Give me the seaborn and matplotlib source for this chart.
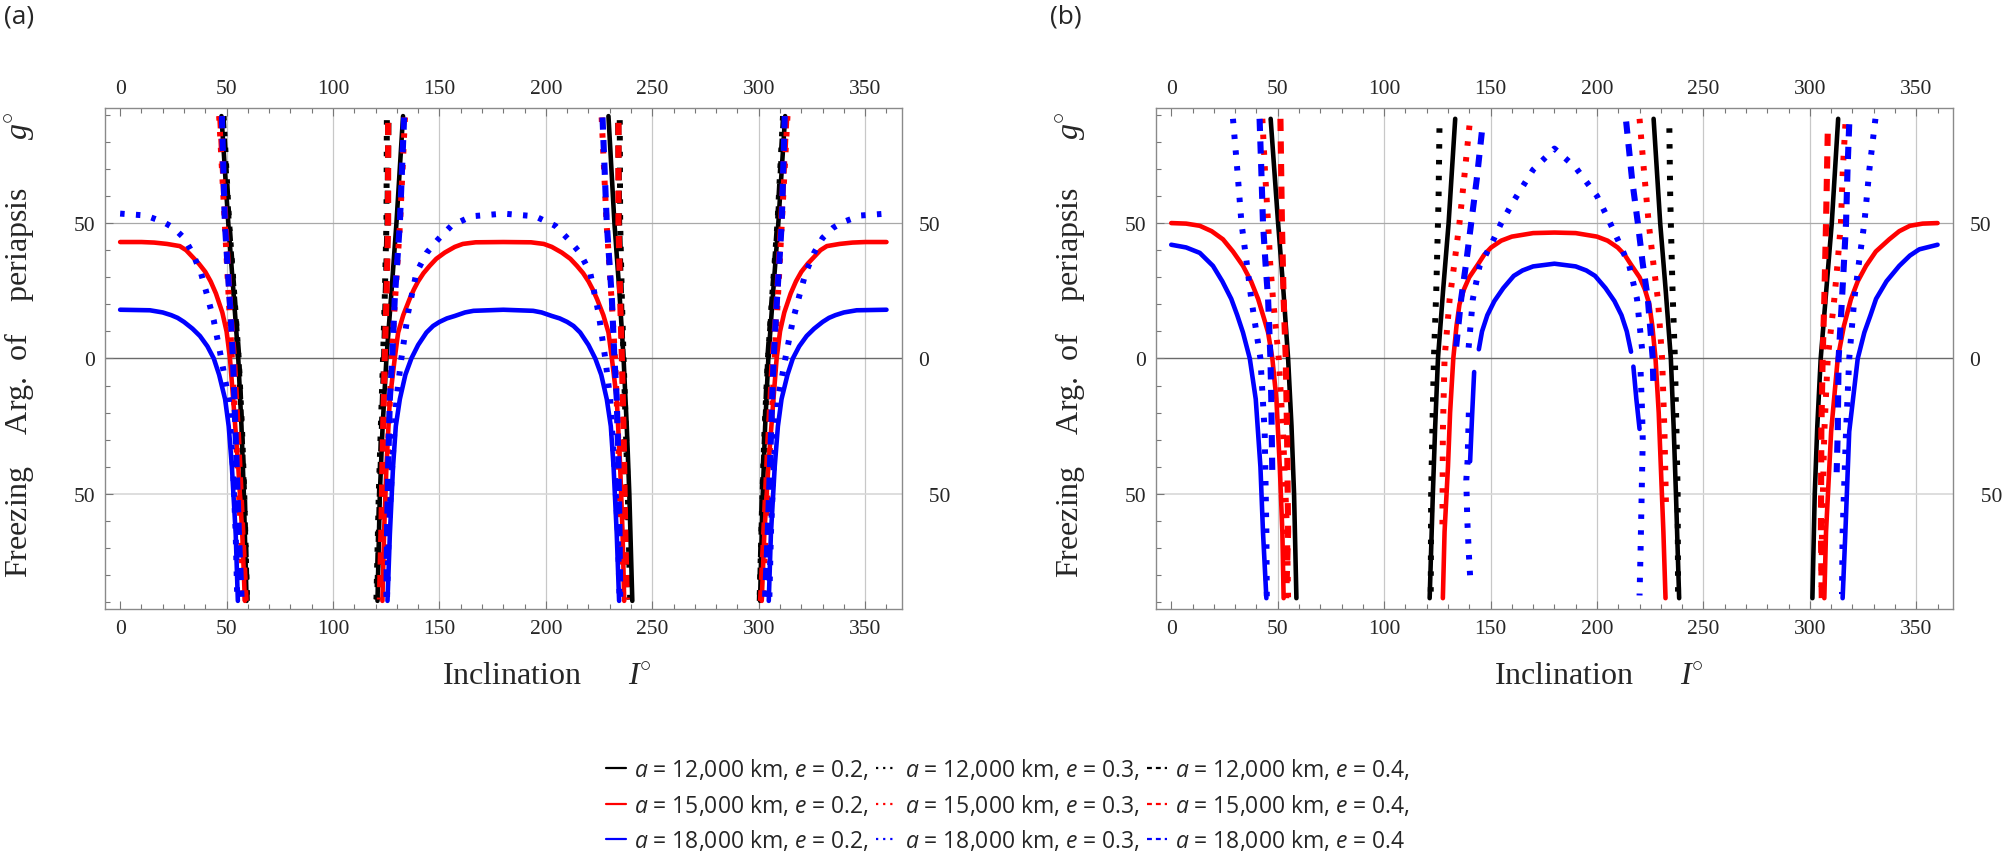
import pandas as pd
import seaborn as sns
import matplotlib.pyplot as plt
from matplotlib import font_manager
from matplotlib.lines import Line2D
from matplotlib.ticker import MultipleLocator

# Valeurs : (inclinaison I, argument g) par branche

# --- panneau (a) ---
a_k12_e02 = [
    [(47.6, 89.5), (50.8, 50), (53.2, 25), (55.5, 0), (57.0, -25), (58.1, -50), (59.4, -89.5)],
    [(132.9, 89.5), (129.8, 50), (127.5, 25), (125.1, 0), (123.3, -25), (122.0, -50), (120.9, -89.5)],
    [(229.4, 89.5), (232.2, 50), (234.5, 25), (236.5, 0), (238.0, -25), (239.2, -50), (240.6, -89.5)],
    [(312.4, 89.5), (309.2, 50), (306.8, 25), (304.5, 0), (303.0, -25), (301.9, -50), (300.6, -89.5)],
]
a_k12_e03 = [
    [(48.6, 89.5), (51.2, 50), (53.5, 25), (55.7, 0), (57.2, -25), (58.3, -50), (59.6, -89.5)],
    [(125.3, 88), (125.1, 50), (124.3, 22), (123.5, 0), (122.4, -27), (121.5, -50), (120.4, -89)],
    [(234.7, 88), (234.9, 50), (235.7, 22), (236.5, 0), (237.6, -27), (238.5, -50), (239.6, -89)],
    [(311.4, 89.5), (308.8, 50), (306.5, 25), (304.3, 0), (302.8, -25), (301.7, -50), (300.4, -89.5)],
]
a_k12_e04 = [
    [(48.2, 89.5), (51.0, 50), (55.6, 0), (58.2, -50), (59.5, -89.5)],
    [(126.0, 87), (125.6, 50), (124.0, 0), (122.0, -50), (120.8, -89)],
    [(234.0, 87), (234.4, 50), (236.0, 0), (238.0, -50), (239.2, -89)],
    [(311.8, 89.5), (309.0, 50), (304.4, 0), (301.8, -50), (300.5, -89.5)],
]
a_k15_e02 = [
    [(0, 43), (10, 43), (16, 42.8), (22, 42.3), (28, 41.5), (31, 40), (34, 37.5), (37, 35), (40, 32),
     (42.5, 28.5), (45, 24), (48, 17), (50, 10), (51.6, 0), (53.1, -15), (55.5, -40), (57.4, -65), (58.6, -89.5)],
    [(123.2, -89.5), (124.0, -64), (125.1, -40), (126.7, -15), (129.0, 0), (130.6, 9.6), (133, 16),
     (136.0, 22), (138, 25.5), (140.0, 28.5), (142.5, 31.5), (145.4, 34.2), (148.5, 36.8), (152.5, 39.1),
     (157.2, 41.2), (161, 42.3), (167, 42.9), (180, 43), (193, 42.9), (199, 42.3), (202.8, 41.2),
     (207.5, 39.1), (211.5, 36.8), (214.6, 34.2), (217.5, 31.5), (220.0, 28.5), (222, 25.5), (224.0, 22),
     (227, 16), (229.4, 9.6), (231.0, 0), (233.3, -15), (234.9, -40), (236.0, -64), (236.8, -89.5)],
    [(301.4, -89.5), (302.6, -65), (304.5, -40), (306.9, -15), (308.4, 0), (310, 10), (312, 17),
     (315, 24), (317.5, 28.5), (320, 32), (323, 35), (326, 37.5), (329, 40), (332, 41.5), (338, 42.3),
     (344, 42.8), (350, 43), (360, 43)],
]
a_k15_e03 = [
    [(46.5, 89.5), (48.5, 60), (50.5, 30), (52.5, 0), (54.5, -30), (56.5, -60), (58.0, -89.5)],
    [(133.8, 89), (131.5, 50), (129.0, 20), (127.5, 0), (126.0, -30), (125.0, -60), (124.0, -89)],
    [(226.2, 89), (228.5, 50), (231.0, 20), (232.5, 0), (234.0, -30), (235.0, -60), (236.0, -89)],
    [(313.5, 89.5), (311.5, 60), (309.5, 30), (307.5, 0), (305.5, -30), (303.5, -60), (302.0, -89.5)],
]
a_k15_e04 = [
    [(47.0, 89.5), (49.5, 50), (52.0, 15), (53.5, 0), (55.5, -30), (57.5, -65), (59.0, -89.5)],
    [(125.9, 87), (125.9, 50), (125.1, 22), (124.3, 0), (123.5, -27), (122.7, -64), (122.0, -89)],
    [(234.1, 87), (234.1, 50), (234.9, 22), (235.7, 0), (236.5, -27), (237.3, -64), (238.0, -89)],
    [(313.0, 89.5), (310.5, 50), (308.0, 15), (306.5, 0), (304.5, -30), (302.5, -65), (301.0, -89.5)],
]
a_k18_e02 = [
    [(0, 18), (14, 17.8), (20, 17), (24, 16), (27, 15), (30, 13.5), (34, 11), (37.5, 8.3), (41, 4.5),
     (44, 0), (46.5, -6), (49.3, -15), (51, -25), (52.5, -40), (54.3, -65), (55.3, -89.5)],
    [(125.6, -89.5), (126.7, -65), (128.2, -40), (129.5, -25), (131.4, -15), (134, -6), (136.8, 0),
     (140, 5), (143.9, 9.6), (147, 12), (150, 13.5), (153.5, 14.8), (157.2, 15.7), (162, 17), (166, 17.6),
     (180, 18), (194, 17.6), (198, 17), (202.8, 15.7), (206.5, 14.8), (210, 13.5), (213, 12), (216.1, 9.6),
     (220, 5), (223.2, 0), (226, -6), (228.6, -15), (230.5, -25), (231.8, -40), (233.3, -65), (234.4, -89.5)],
    [(304.7, -89.5), (305.7, -65), (307.5, -40), (309, -25), (310.7, -15), (313.5, -6), (316, 0), (319, 4.5),
     (322.5, 8.3), (326, 11), (330, 13.5), (333, 15), (336, 16), (340, 17), (346, 17.8), (360, 18)],
]
a_k18_e03 = [
    [(0, 53.5), (12, 52.8), (20, 50.5), (25, 48.3), (30, 44.5), (34, 39), (38, 31.5), (41, 23), (44, 14),
     (47.5, 0), (51, -15), (53, -40), (54.3, -65), (55, -88)],
    [(125.4, -88), (126.2, -64), (127.8, -40), (129.8, -15), (132.1, 0), (135.3, 17), (139.2, 31.7),
     (144, 39), (149.4, 44), (155.6, 49), (165, 52.5), (180, 53.5), (195, 52.5), (204.4, 49),
     (210.6, 44), (216, 39), (220.8, 31.7), (224.7, 17), (227.9, 0), (230.2, -15), (232.2, -40),
     (233.8, -64), (234.6, -88)],
    [(305, -88), (305.7, -65), (307, -40), (309, -15), (312.5, 0), (316, 14), (319, 23), (322, 31.5),
     (326, 39), (330, 44.5), (335, 48.3), (340, 50.5), (348, 52.8), (360, 53.5)],
]
a_k18_e04 = [
    [(47.8, 89.5), (49.2, 50), (51.9, 16), (53.0, 0), (54.2, -27), (55.8, -65), (57.0, -88)],
    [(133.4, 89), (131.4, 50), (129.0, 22), (127.8, 0), (126.7, -15), (125.9, -40), (125.4, -64), (125.1, -88)],
    [(226.6, 89), (228.6, 50), (231.0, 22), (232.2, 0), (233.3, -15), (234.1, -40), (234.6, -64), (234.9, -88)],
    [(312.2, 89.5), (310.8, 50), (308.1, 16), (307.0, 0), (305.8, -27), (304.2, -65), (303.0, -88)],
]

# --- panneau (b) ---
b_k12_e02 = [
    [(46.7, 88.5), (50.2, 50), (52.7, 25), (54.9, 0), (56.5, -25), (57.7, -50), (58.8, -88.5)],
    [(133.4, 88.5), (130.3, 50), (127.7, 25), (125.3, 0), (124.0, -25), (122.9, -50), (121.4, -88.5)],
    [(226.6, 88.5), (229.7, 50), (232.3, 25), (234.7, 0), (236.0, -25), (237.1, -50), (238.6, -88.5)],
    [(313.3, 88.5), (310.3, 50), (307.7, 25), (305.1, 0), (303.5, -25), (302.3, -50), (301.2, -88.5)],
]
b_k12_e03 = [
    [(126.0, 85), (125.6, 60), (125.3, 50), (124.5, 25), (123.4, 0), (122.7, -25), (122.1, -50), (121.9, -88.5)],
    [(234.0, 85), (234.4, 60), (234.7, 50), (235.5, 25), (236.6, 0), (237.3, -25), (237.9, -50), (238.1, -88.5)],
]
b_k12_e04 = []
b_k15_e02 = [
    [(0, 50), (7, 49.8), (13.4, 49), (19, 47), (24.3, 44), (29, 39.5), (33.7, 34.2), (37.5, 28.5),
     (40.8, 22), (43.5, 15), (45.5, 9.6), (47.5, 0), (49.4, -15), (51, -40), (52.2, -64), (52.8, -88.5)],
    [(127.6, -88.5), (128.4, -64), (130, -40), (131, -20), (132.5, 0), (134, 12), (135.4, 20), (137.5, 25.5),
     (140, 30), (144.3, 35), (147, 38.3), (150.3, 41), (155, 43.5), (160, 45), (170, 46.3), (180, 46.5),
     (190, 46.3), (200, 45), (205, 43.5), (209.7, 41), (213, 38.3), (215.7, 35), (220, 30), (222.5, 25.5),
     (224.6, 20), (226, 12), (227.5, 0), (229, -20), (230, -40), (231.2, -64), (232.2, -88.5)],
    [(306.8, -88.5), (307.6, -64), (310, -27), (313.1, 0), (316, 12), (319.3, 21.9), (322.5, 28.5),
     (326.4, 34.2), (331, 39.5), (337.3, 44), (342, 47), (347, 49), (353, 49.8), (360, 50)],
]
b_k15_e03 = [
    [(42.8, 88.5), (44, 70), (45.5, 50), (46.5, 35), (47.8, 22), (50.5, 0), (52.5, -27), (54.4, -64), (54.9, -88.5)],
    [(140.1, 86), (137.8, 68), (135.4, 50), (133, 35), (130.8, 22), (128.4, 0), (127.6, -27), (127.4, -62)],
    [(220.0, 88.5), (222, 70), (224.3, 50), (226.5, 35), (228.6, 22), (230.6, 0), (231.7, -27), (232.5, -57)],
    [(316.7, 86.5), (315.5, 70), (314.6, 50), (313, 35), (311.5, 22), (308.4, 0), (306.8, -27), (305.7, -64), (305.4, -88.5)],
]
b_k15_e04 = [
    [(51.3, 88.5), (52, 50), (52.8, 22), (53.8, 0), (54.4, -27), (54.9, -64), (54.0, -88.5)],
    [(308.4, 83), (307.6, 50), (306.8, 22), (306.0, 0), (305.4, -27), (305.2, -64), (305.6, -88.5)],
]
b_k18_e02 = [
    [(0, 42), (7, 41), (13.4, 39), (19.6, 34.2), (24, 28.5), (28.2, 22), (31, 16), (33.7, 9.6), (36.9, 0),
     (39.7, -15), (41.9, -40), (43.1, -64), (44.7, -88.5)],
    [(144.5, 3.4), (146, 10), (148.5, 16), (151.8, 21.2), (156, 26), (160.9, 30.5), (165, 32.5), (170, 34),
     (180, 35), (190, 34), (195, 32.5), (199.1, 30.5), (204, 26), (208.2, 21.2), (211.5, 16), (214, 10), (216, 2.5)],
    [(142.3, -5), (141.4, -20), (140.4, -38)],
    [(217.1, -3), (218.5, -15), (220, -26)],
    [(315.4, -88.5), (316.7, -64), (318.5, -27), (322.5, 0), (325.6, 9.6), (328.5, 16), (331.1, 22),
     (336, 28.5), (342, 34.2), (347, 38), (351.4, 40.3), (360, 42)],
]
b_k18_e03 = [
    [(29, 88.5), (31, 70), (33, 50), (35.5, 35), (37.6, 22), (41.9, 0), (43.9, -27), (44.7, -64), (44.9, -88.5)],
    [(139.7, 4), (141.7, 22), (144.8, 34), (150.3, 42), (155, 50), (160.9, 58.2), (170, 69.7), (180, 77.5),
     (190, 70.5), (200, 60), (205, 52), (209.7, 44), (215.2, 34.2), (218.8, 22), (220.7, 7.1), (221.2, 3.4)],
    [(139.8, -20), (139.2, -38), (138.6, -45), (139.1, -60), (139.8, -72), (140.6, -83)],
    [(220.5, -5), (221.2, -20), (221.5, -30), (221.0, -50), (220.5, -70), (220.0, -87.5)],
    [(330.8, 88.5), (328, 70), (325.6, 50), (323, 35), (320.9, 22), (318.5, 0), (317, -27), (315.4, -64), (315.1, -87)],
]
b_k18_e04 = [
    [(41.5, 88.5), (42.3, 70), (43.1, 50), (44.3, 35), (45.5, 22), (46.6, 0), (47, -15), (47.5, -44)],
    [(145.9, 83.5), (143.5, 66), (140.9, 50), (138.5, 35), (136.2, 22), (133.4, 1)],
    [(213.7, 87.5), (216.5, 66), (219.2, 50), (221.5, 35), (223.9, 22), (226.2, 0), (226.5, -10)],
    [(318.5, 86.5), (317.7, 70), (317, 50), (316, 35), (315.1, 22), (313.5, 0), (313.1, -27), (312.6, -42)],
]

demi_axes = ["12,000", "15,000", "18,000"]
excentricites = ["0.2", "0.3", "0.4"]
x_ticks = [0, 50, 100, 150, 200, 250, 300, 350]
x_labels = ["0", "50", "100", "150", "200", "250", "300", "350"]
y_ticks = [-50, 0, 50]
y_labels_left = ["50", "0", "50"]
y_labels_right = ["  50", "0", "50"]

panneau_a = {
    ("12,000", "0.2"): a_k12_e02, ("12,000", "0.3"): a_k12_e03, ("12,000", "0.4"): a_k12_e04,
    ("15,000", "0.2"): a_k15_e02, ("15,000", "0.3"): a_k15_e03, ("15,000", "0.4"): a_k15_e04,
    ("18,000", "0.2"): a_k18_e02, ("18,000", "0.3"): a_k18_e03, ("18,000", "0.4"): a_k18_e04,
}
panneau_b = {
    ("12,000", "0.2"): b_k12_e02, ("12,000", "0.3"): b_k12_e03, ("12,000", "0.4"): b_k12_e04,
    ("15,000", "0.2"): b_k15_e02, ("15,000", "0.3"): b_k15_e03, ("15,000", "0.4"): b_k15_e04,
    ("18,000", "0.2"): b_k18_e02, ("18,000", "0.3"): b_k18_e03, ("18,000", "0.4"): b_k18_e04,
}

couleurs = {"12,000": "#000000", "15,000": "#ff0000", "18,000": "#0000ff"}
styles = {
    "0.2": dict(linewidth=3.3, linestyle="-"),
    "0.3": dict(linewidth=4.3, linestyle=(0, (0.75, 1.9))),
    "0.4": dict(linewidth=4.4, linestyle=(0, (2.0, 1.7))),
}
styles_legende = {"0.2": "-", "0.3": (0, (1.0, 2.2)), "0.4": (0, (2.2, 1.8))}


def en_tableau(branches):
    rows = [(k, i, g) for k, br in enumerate(branches) for i, g in br]
    return pd.DataFrame(rows, columns=["branche", "I", "g"])


# Style
sns.set_theme(style="white")
noms = {f.name for f in font_manager.fontManager.ttflist}
sans = next((n for n in ["Liberation Sans Narrow", "Open Sans", "Liberation Sans"] if n in noms), "DejaVu Sans")
serif = "Liberation Serif"
plt.rcParams["font.family"] = [serif, "DejaVu Serif"]
plt.rcParams["mathtext.fontset"] = "custom"
plt.rcParams["mathtext.it"] = f"{sans}:italic"
plt.rcParams["mathtext.rm"] = serif
plt.rcParams["mathtext.cal"] = f"{serif}:italic"
plt.rcParams["axes.formatter.use_mathtext"] = False

fig = plt.figure(figsize=(20.04, 8.54), dpi=100)
ax_a = fig.add_axes([0.0523, 0.2857, 0.3977, 0.5867])
ax_b = fig.add_axes([0.5768, 0.2857, 0.3977, 0.5867])

for ax, panneau in [(ax_a, panneau_a), (ax_b, panneau_b)]:
    # grille
    ax.vlines(x_ticks[1:], 0, 1, transform=ax.get_xaxis_transform(), color="#c8c8c8", lw=0.9, zorder=0)
    ax.axhline(50, color="#a8a8a8", lw=0.9, zorder=0)
    ax.axhline(-50, color="#d8d8d8", lw=1.2, zorder=0)
    ax.axhline(0, color="#6a6a6a", lw=1.0, zorder=0)

    for a in demi_axes:
        for e in excentricites:
            if not panneau[(a, e)]:
                continue
            df = en_tableau(panneau[(a, e)])
            sns.lineplot(data=df, x="I", y="g", units="branche", estimator=None, sort=False,
                         color=couleurs[a], ax=ax, legend=False, **styles[e])

    ax.set_xlim(-7.2, 367.2)
    ax.set_ylim(-92.5, 92.5)
    ax.set_xticks(x_ticks)
    ax.set_xticklabels(x_labels)
    ax.xaxis.set_minor_locator(MultipleLocator(10))
    ax.set_yticks(y_ticks)
    ax.set_yticklabels(y_labels_left)
    ax.yaxis.set_minor_locator(MultipleLocator(10))
    ax.tick_params(which="both", direction="in", top=True, bottom=True, left=True, right=True,
                   labeltop=True, labelbottom=True, labelsize=15.5, color="#777777", pad=7,
                   labelfontfamily=serif)
    ax.tick_params(which="major", length=6, width=0.8)
    ax.tick_params(which="minor", length=3.5, width=0.8)
    for s in ax.spines.values():
        s.set_color("#8a8a8a")
        s.set_linewidth(1.0)

    droite = ax.twinx()
    droite.set_ylim(ax.get_ylim())
    droite.set_yticks(y_ticks)
    droite.set_yticklabels(y_labels_right)
    droite.tick_params(length=0, labelsize=15.5, pad=12, labelfontfamily=serif)
    for s in droite.spines.values():
        s.set_visible(False)

    ax.set_xlabel("Inclination      $\\mathcal{I}^{\\circ}$", fontsize=23, family=serif)
    ax.xaxis.set_label_coords(0.555, -0.134)
    ax.xaxis.label.set_va("center")
    ax.set_ylabel("Freezing    Arg.  of    periapsis      $\\mathcal{g}^{\\circ}$", fontsize=23, family=serif)
    ax.yaxis.set_label_coords(-0.108, 0.53)
    ax.yaxis.label.set_va("center")

fig.text(0.002, 0.995, "(a)", family=sans, fontsize=19, va="top", ha="left")
fig.text(0.524, 0.995, "(b)", family=sans, fontsize=19, va="top", ha="left")

# Légende
poignees, etiquettes = [], []
for e in excentricites:
    for a in demi_axes:
        poignees.append(Line2D([], [], color=couleurs[a], lw=1.6, ls=styles_legende[e]))
        etiquettes.append(f"$a$ = {a} km, $e$ = {e},")
etiquettes[-1] = etiquettes[-1].rstrip(",")
fig.legend(poignees, etiquettes, ncol=3, loc="upper center", bbox_to_anchor=(0.503, 0.112),
           frameon=False, prop=dict(family=sans, size=16.5), handlelength=0.9, handletextpad=0.35,
           columnspacing=0.3, labelspacing=0.45, borderpad=0, borderaxespad=0)

plt.savefig("out.png", dpi=100)
